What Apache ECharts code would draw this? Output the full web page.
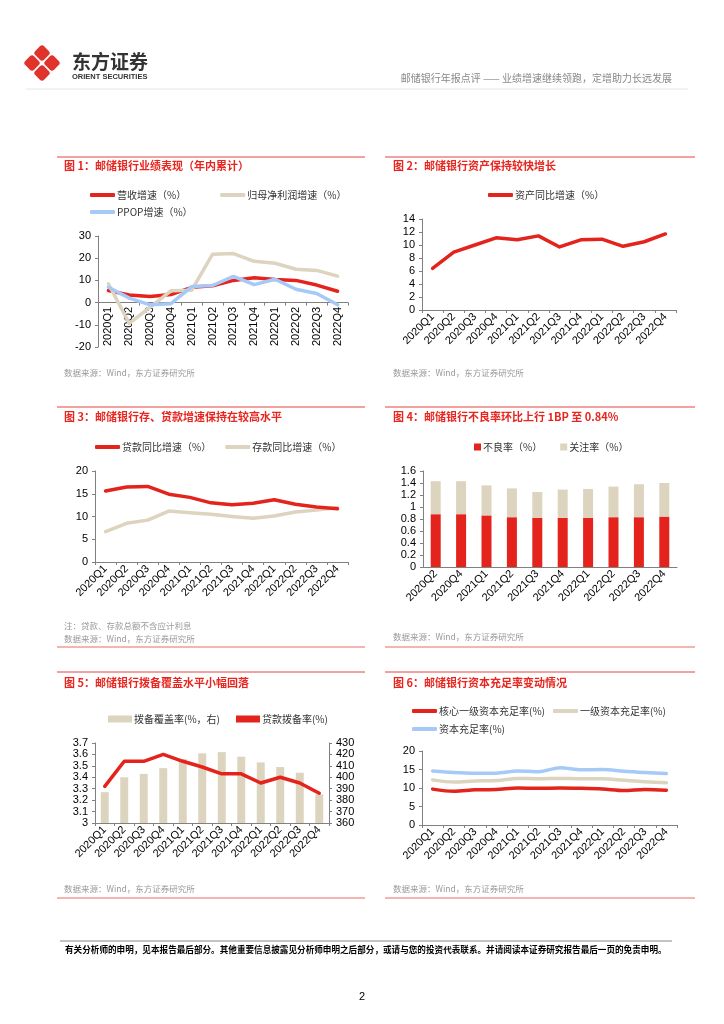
<!DOCTYPE html>
<html><head><meta charset="utf-8">
<script src="https://cdn.jsdelivr.net/npm/echarts@6/dist/echarts.min.js"></script>
<style>html,body{margin:0;padding:0;background:#fff;}#c{width:724px;height:1024px;}</style>
</head><body><div id="c"></div>
<script>
// ---------- data ----------
const quarters12 = ['2020Q1','2020Q2','2020Q3','2020Q4','2021Q1','2021Q2','2021Q3','2021Q4','2022Q1','2022Q2','2022Q3','2022Q4'];
const quarters10 = ['2020Q2','2020Q4','2021Q1','2021Q2','2021Q3','2021Q4','2022Q1','2022Q2','2022Q3','2022Q4'];

const revenueGrowth   = [5.4, 3.4, 2.8, 3.6, 6.9, 7.6, 10.0, 11.2, 10.4, 10.0, 7.9, 5.1];
const netProfitGrowth = [8.5, -9.4, -2.0, 5.3, 5.6, 21.8, 22.1, 18.6, 17.7, 15.0, 14.5, 11.9];
const ppopGrowth      = [6.9, 2.0, -1.0, -0.5, 7.2, 7.7, 11.8, 8.1, 10.5, 6.0, 4.1, -1.0];

const assetGrowth = [6.4, 8.9, 10.0, 11.1, 10.8, 11.4, 9.7, 10.8, 10.9, 9.8, 10.5, 11.7];

const loanGrowth    = [15.6, 16.5, 16.6, 14.9, 14.2, 13.0, 12.6, 12.9, 13.7, 12.7, 12.1, 11.7];
const depositGrowth = [6.7, 8.5, 9.2, 11.2, 10.8, 10.5, 10.0, 9.6, 10.1, 11.0, 11.4, 12.0];

const nplRatio            = [0.88, 0.88, 0.86, 0.83, 0.82, 0.82, 0.82, 0.83, 0.83, 0.84];
const specialMentionRatio = [0.55, 0.55, 0.50, 0.48, 0.43, 0.47, 0.48, 0.51, 0.55, 0.56];

const provisionCoverage  = [387, 400, 403, 408, 416, 421, 422, 418, 413, 409, 404, 385];
const loanProvisionRatio = [3.32, 3.54, 3.54, 3.60, 3.54, 3.49, 3.43, 3.43, 3.35, 3.40, 3.35, 3.26];

const cet1Ratio  = [9.7, 9.1, 9.5, 9.6, 10.0, 9.9, 10.0, 9.9, 9.7, 9.3, 9.6, 9.4];
const tier1Ratio = [12.2, 11.6, 11.9, 12.0, 12.6, 12.5, 12.6, 12.5, 12.5, 12.1, 11.7, 11.4];
const carRatio   = [14.6, 14.2, 14.0, 14.0, 14.6, 14.4, 15.5, 14.9, 15.0, 14.5, 14.2, 13.9];

// ---------- styles ----------
const RED = '#E3231C', BEIGE = '#DDD4BF', BLUE = '#A7C9F7';
const TITLE_RED = '#E8251F', AX = '#808080';
const CJK = '"Noto Sans CJK SC", sans-serif';
const LAT = '"Liberation Sans", Arial, sans-serif';

function xCat(gridIndex, data, rotate, ticks) {
  return {
    type: 'category', gridIndex, data, boundaryGap: true,
    axisLine: { lineStyle: { color: AX, width: 1 } },
    axisTick: { show: ticks, length: 3, lineStyle: { color: AX } },
    axisLabel: { rotate, interval: 0, fontSize: 11, color: '#000', fontFamily: LAT, margin: 5 }
  };
}
function yVal(gridIndex, min, max, interval, pos) {
  return {
    type: 'value', gridIndex, min, max, interval, position: pos || 'left',
    splitLine: { show: false },
    axisLine: { show: true, lineStyle: { color: AX, width: 1 } },
    axisTick: { show: true, length: 3, lineStyle: { color: AX } },
    axisLabel: { fontSize: 11, color: '#000', fontFamily: LAT, margin: 7 }
  };
}
function lineS(name, data, color, xi, yi, smooth) {
  return {
    type: 'line', name, data, xAxisIndex: xi, yAxisIndex: yi,
    symbol: 'none', smooth: smooth || false,
    lineStyle: { color, width: 3.5, cap: 'round', join: 'round' },
    itemStyle: { color }, z: 3
  };
}
function legend(data, left, top, icon, w, h, gap) {
  return {
    data, left, top, icon, itemWidth: w, itemHeight: h, itemGap: gap, padding: 0,
    textStyle: { fontSize: 10, color: '#333', fontFamily: CJK, padding: [0, 0, 0, -3] },
    selectedMode: false
  };
}
function txt(x, y, text, size, color, weight, align) {
  return { type: 'text', silent: true, style: { x, y, text, fill: color, align: align || 'left', verticalAlign: 'middle',
    font: (weight || 'normal') + ' ' + size + 'px ' + CJK } };
}
function hline(x1, x2, y, color, w) {
  return { type: 'line', silent: true, shape: { x1, y1: y, x2, y2: y }, style: { stroke: color, lineWidth: w || 1 } };
}
function diamond(cx, cy, s) {
  return { type: 'rect', silent: true, x: cx, y: cy, rotation: Math.PI / 4,
    shape: { x: -s / 2, y: -s / 2, width: s, height: s, r: 3 }, style: { fill: '#E0332B' } };
}

const graphics = [
  diamond(42, 53, 12.5), diamond(32, 63, 12.5), diamond(52, 63, 12.5), diamond(42, 73, 12.5),
  txt(72, 62, '东方证券', 19, '#333', 'bold'),
  { type: 'text', silent: true, style: { x: 72, y: 77, text: 'ORIENT SECURITIES', fill: '#333', verticalAlign: 'middle', font: 'bold 7.5px ' + LAT } },
  txt(672, 78, '邮储银行年报点评 —— 业绩增速继续领跑，定增助力长远发展', 10, '#888', 'normal', 'right'),
  hline(26, 688, 89, '#e6e6e6', 1),

  hline(57, 365, 157, '#E5473F'), hline(385, 695, 157, '#E5473F'),
  hline(57, 365, 407, '#E5473F'), hline(385, 695, 407, '#E5473F'),
  hline(57, 365, 647, '#EB6A63'), hline(385, 695, 647, '#EB6A63'),
  hline(57, 365, 672, '#E5473F'), hline(385, 695, 672, '#E5473F'),
  hline(57, 365, 898, '#EB6A63'), hline(385, 695, 898, '#EB6A63'),

  txt(64, 166, '图 1：邮储银行业绩表现（年内累计）', 11, TITLE_RED, 'bold'),
  txt(393, 166, '图 2：邮储银行资产保持较快增长', 11, TITLE_RED, 'bold'),
  txt(64, 417, '图 3：邮储银行存、贷款增速保持在较高水平', 11, TITLE_RED, 'bold'),
  txt(393, 417, '图 4：邮储银行不良率环比上行 1BP 至 0.84%', 11, TITLE_RED, 'bold'),
  txt(64, 683, '图 5：邮储银行拨备覆盖水平小幅回落', 11, TITLE_RED, 'bold'),
  txt(393, 683, '图 6：邮储银行资本充足率变动情况', 11, TITLE_RED, 'bold'),

  txt(64, 373, '数据来源：Wind，东方证券研究所', 8.5, '#999'),
  txt(393, 373, '数据来源：Wind，东方证券研究所', 8.5, '#999'),
  txt(64, 626, '注：贷款、存款总额不含应计利息', 8.5, '#999'),
  txt(64, 639, '数据来源：Wind，东方证券研究所', 8.5, '#999'),
  txt(393, 637, '数据来源：Wind，东方证券研究所', 8.5, '#999'),
  txt(64, 889, '数据来源：Wind，东方证券研究所', 8.5, '#999'),
  txt(393, 889, '数据来源：Wind，东方证券研究所', 8.5, '#999'),

  hline(60, 672, 941, '#888', 1),
  txt(65, 950, '有关分析师的申明，见本报告最后部分。其他重要信息披露见分析师申明之后部分，或请与您的投资代表联系。并请阅读本证券研究报告最后一页的免责申明。', 8.6, '#000', 'bold'),
  { type: 'text', silent: true, style: { x: 362, y: 997, text: '2', fill: '#000', align: 'center', verticalAlign: 'middle', font: '11px ' + LAT } }
];

// chart 1: axis line/ticks on zero (labels hidden) + a label-only axis at the bottom with inside labels
const x1Line = xCat(0, quarters12, 0, true);
x1Line.axisLabel.show = false;
x1Line.axisLine.onZero = true;
const x1Labels = {
  type: 'category', gridIndex: 0, data: quarters12, boundaryGap: true, position: 'bottom',
  axisLine: { show: false, onZero: false }, axisTick: { show: false },
  axisLabel: { inside: true, rotate: 90, interval: 0, fontSize: 11, color: '#000', fontFamily: LAT, margin: 1 }
};

const option = {
  animation: false,
  backgroundColor: '#fff',
  graphic: graphics,
  legend: [
    legend(['营收增速（%）', '归母净利润增速（%）'], 90, 190, 'roundRect', 25, 4, 34),
    legend(['PPOP增速（%）'], 90, 207, 'roundRect', 25, 4, 10),
    legend(['资产同比增速（%）'], 488, 190, 'roundRect', 25, 4, 10),
    legend(['贷款同比增速（%）', '存款同比增速（%）'], 95, 442, 'roundRect', 25, 4, 14),
    legend(['不良率（%）', '关注率（%）'], 474, 442, 'rect', 7, 7, 18),
    legend(['拨备覆盖率(%，右)', '贷款拨备率(%)'], 108, 714, 'rect', 24, 7, 16),
    legend(['核心一级资本充足率(%)', '一级资本充足率(%)'], 412, 706, 'roundRect', 25, 4, 8),
    legend(['资本充足率(%)'], 412, 724, 'roundRect', 25, 4, 10)
  ],
  grid: [
    { left: 98, top: 236, width: 250, height: 111 },
    { left: 422, top: 219, width: 254, height: 91 },
    { left: 95, top: 471, width: 253, height: 91 },
    { left: 423, top: 471, width: 254, height: 96 },
    { left: 95, top: 743, width: 234, height: 80 },
    { left: 422, top: 751, width: 255, height: 74 }
  ],
  xAxis: [
    x1Line,
    xCat(1, quarters12, 45, true),
    xCat(2, quarters12, 45, true),
    xCat(3, quarters10, 45, false),
    xCat(4, quarters12, 45, true),
    xCat(5, quarters12, 45, true),
    x1Labels
  ],
  yAxis: [
    yVal(0, -20, 30, 10),
    yVal(1, 0, 14, 2),
    yVal(2, 0, 20, 5),
    yVal(3, 0, 1.6, 0.2),
    yVal(4, 3, 3.7, 0.1),
    yVal(4, 360, 430, 10, 'right'),
    yVal(5, 0, 20, 5)
  ],
  series: [
    lineS('营收增速（%）', revenueGrowth, RED, 0, 0),
    lineS('归母净利润增速（%）', netProfitGrowth, BEIGE, 0, 0),
    lineS('PPOP增速（%）', ppopGrowth, BLUE, 0, 0),

    lineS('资产同比增速（%）', assetGrowth, RED, 1, 1),

    lineS('存款同比增速（%）', depositGrowth, BEIGE, 2, 2),
    lineS('贷款同比增速（%）', loanGrowth, RED, 2, 2),

    { type: 'bar', name: '不良率（%）', data: nplRatio, xAxisIndex: 3, yAxisIndex: 3, stack: 'q', barWidth: 10, itemStyle: { color: RED } },
    { type: 'bar', name: '关注率（%）', data: specialMentionRatio, xAxisIndex: 3, yAxisIndex: 3, stack: 'q', barWidth: 10, itemStyle: { color: BEIGE } },

    { type: 'bar', name: '拨备覆盖率(%，右)', data: provisionCoverage, xAxisIndex: 4, yAxisIndex: 5, barWidth: 8, itemStyle: { color: BEIGE } },
    lineS('贷款拨备率(%)', loanProvisionRatio, RED, 4, 4),

    lineS('资本充足率(%)', carRatio, BLUE, 5, 6, 0.3),
    lineS('一级资本充足率(%)', tier1Ratio, BEIGE, 5, 6, 0.3),
    lineS('核心一级资本充足率(%)', cet1Ratio, RED, 5, 6, 0.3)
  ]
};
const chart = echarts.init(document.getElementById('c'), null, { renderer: 'canvas' });
chart.setOption(option);
</script>
</body></html>
